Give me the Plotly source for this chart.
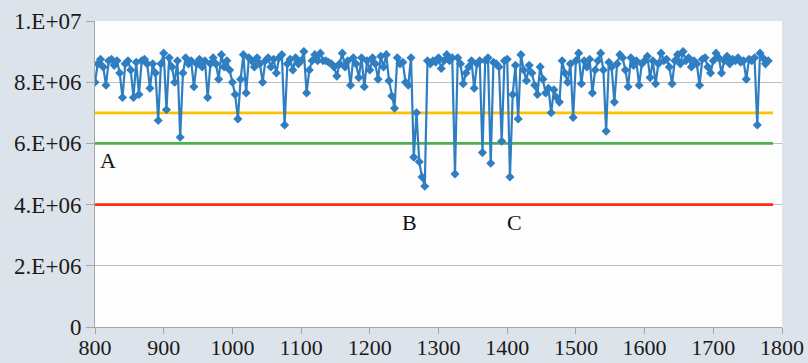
import plotly.graph_objects as go

# Sampled signal: (x, value in units of 1e6)
samples = [
    (800, 8.0), (804, 8.6), (808, 8.75), (812, 8.5), (816, 7.9), (820, 8.7), (824, 8.75), (828, 8.55),
    (832, 8.7), (836, 8.3), (840, 7.5), (844, 8.6), (848, 8.7), (852, 8.4), (856, 7.5), (860, 8.65),
    (864, 7.6), (868, 8.7), (872, 8.75), (876, 8.6), (880, 7.8), (884, 8.6), (888, 8.3), (892, 6.75),
    (896, 8.6), (900, 8.95), (904, 7.1), (908, 8.8), (912, 8.5), (916, 8.0), (920, 8.7), (924, 6.2),
    (928, 8.3), (932, 8.8), (936, 8.6), (940, 8.7), (944, 7.85), (948, 8.6), (952, 8.75), (956, 8.5),
    (960, 8.7), (964, 7.5), (968, 8.6), (972, 8.8), (976, 8.6), (980, 8.1), (984, 8.9), (988, 8.5),
    (992, 8.7), (996, 8.4), (1000, 8.0), (1004, 7.6), (1008, 6.8), (1012, 8.1), (1016, 8.9), (1020, 7.65),
    (1024, 8.8), (1028, 8.7), (1032, 8.5), (1036, 8.8), (1040, 8.6), (1044, 8.0), (1048, 8.7), (1052, 8.8),
    (1056, 8.5), (1060, 8.75), (1064, 8.3), (1068, 8.8), (1072, 8.9), (1076, 6.6), (1080, 8.6), (1084, 8.75),
    (1088, 8.4), (1092, 8.8), (1096, 8.6), (1100, 8.7), (1104, 9.0), (1108, 7.65), (1112, 8.4), (1116, 8.7),
    (1120, 8.9), (1124, 8.7), (1128, 8.95), (1132, 8.7), (1136, 8.7), (1140, 8.65), (1144, 8.6), (1148, 8.5),
    (1152, 8.2), (1156, 8.6), (1160, 8.95), (1164, 8.5), (1168, 8.7), (1172, 7.9), (1176, 8.8), (1180, 8.6),
    (1184, 8.15), (1188, 8.8), (1192, 7.85), (1196, 8.7), (1200, 8.4), (1204, 8.8), (1208, 8.6), (1212, 8.1),
    (1216, 8.85), (1220, 8.5), (1224, 8.9), (1228, 8.05), (1232, 7.55), (1236, 7.15), (1240, 8.8), (1244, 8.6),
    (1248, 8.65), (1252, 8.0), (1256, 7.9), (1260, 8.8), (1264, 5.55), (1268, 7.0), (1272, 5.4), (1276, 4.9),
    (1280, 4.6), (1284, 8.7), (1288, 8.6), (1292, 8.7), (1296, 8.65), (1300, 8.8), (1304, 8.45), (1308, 8.7),
    (1312, 8.9), (1316, 8.7), (1320, 8.8), (1324, 5.0), (1328, 8.8), (1332, 8.6), (1336, 7.95), (1340, 8.3),
    (1344, 8.5), (1348, 8.7), (1352, 7.8), (1356, 8.6), (1360, 8.7), (1364, 5.7), (1368, 8.7), (1372, 8.8),
    (1376, 5.35), (1380, 8.65), (1384, 8.6), (1388, 8.5), (1392, 6.07), (1396, 8.7), (1400, 8.75), (1404, 4.9),
    (1408, 7.6), (1412, 8.55), (1416, 6.8), (1420, 8.9), (1424, 8.4), (1428, 8.05), (1432, 8.55), (1436, 8.3),
    (1440, 7.9), (1444, 7.6), (1448, 8.5), (1452, 8.1), (1456, 7.65), (1460, 7.8), (1464, 7.0), (1468, 7.75),
    (1472, 7.5), (1476, 7.35), (1480, 8.7), (1484, 8.3), (1488, 8.0), (1492, 8.6), (1496, 6.85), (1500, 8.7),
    (1504, 8.95), (1508, 7.95), (1512, 8.7), (1516, 8.5), (1520, 8.75), (1524, 7.65), (1528, 8.4), (1532, 8.7),
    (1536, 8.95), (1540, 8.4), (1544, 6.4), (1548, 8.65), (1552, 8.5), (1556, 7.35), (1560, 8.6), (1564, 8.9),
    (1568, 8.8), (1572, 8.4), (1576, 7.85), (1580, 8.8), (1584, 8.55), (1588, 8.7), (1592, 7.9), (1596, 8.6),
    (1600, 8.7), (1604, 8.85), (1608, 8.15), (1612, 8.7), (1616, 7.95), (1620, 8.6), (1624, 8.95), (1628, 8.7),
    (1632, 8.75), (1636, 8.5), (1640, 7.95), (1644, 8.7), (1648, 8.9), (1652, 8.6), (1656, 9.0), (1660, 8.7),
    (1664, 8.8), (1668, 8.5), (1672, 8.7), (1676, 8.6), (1680, 7.9), (1684, 8.75), (1688, 8.8), (1692, 8.5),
    (1696, 8.3), (1700, 8.7), (1704, 8.95), (1708, 8.8), (1712, 8.3), (1716, 8.7), (1720, 8.85), (1724, 8.6),
    (1728, 8.75), (1732, 8.7), (1736, 8.8), (1740, 8.65), (1744, 8.7), (1748, 8.1), (1752, 8.75), (1756, 8.7),
    (1760, 8.8), (1764, 6.6), (1768, 8.95), (1772, 8.8), (1776, 8.6), (1780, 8.7),
]
x_vals = [p[0] for p in samples]
y_vals = [p[1] * 1e6 for p in samples]

# Threshold levels
threshold_levels = [7e6, 6e6, 4e6]
threshold_colors = ["#FFC000", "#4CAF50", "#FF2A1A"]
threshold_x = [800, 1787]

# Axis ticks
y_tickvals = [0, 2e6, 4e6, 6e6, 8e6, 1e7]
y_ticktext = ["0", "2.E+06", "4.E+06", "6.E+06", "8.E+06", "1.E+07"]
x_tickvals = [800, 900, 1000, 1100, 1200, 1300, 1400, 1500, 1600, 1700, 1800]

# Region labels
label_text = ["A", "B", "C"]
label_x = [819, 1258, 1411]
label_y = [5.45e6, 3.42e6, 3.42e6]

font_family = '"Liberation Serif", "Times New Roman", Times, serif'
paper_color = "#DCE3EB"

fig = go.Figure()
for lvl, col in zip(threshold_levels, threshold_colors):
    fig.add_trace(go.Scatter(x=threshold_x, y=[lvl, lvl], mode="lines",
                             line=dict(color=col, width=2.8), hoverinfo="skip",
                             showlegend=False))

fig.add_trace(go.Scatter(x=x_vals, y=y_vals, mode="lines+markers",
                         line=dict(color="#2E7EC1", width=2.2),
                         marker=dict(symbol="diamond", size=7, color="#2E7EC1"),
                         showlegend=False))

for t, ax_, ay_ in zip(label_text, label_x, label_y):
    fig.add_annotation(x=ax_, y=ay_, text=t, showarrow=False,
                       font=dict(family=font_family, size=22, color="#111"))

fig.update_layout(
    width=808, height=363,
    margin=dict(l=95, r=26, t=21, b=36),
    paper_bgcolor=paper_color,
    plot_bgcolor="#FDFDFE",
    font=dict(family=font_family, size=23, color="#1a1a1a"),
    showlegend=False,
)
fig.update_xaxes(range=[800, 1800], tickvals=x_tickvals, showgrid=False,
                 showline=True, linecolor="#A6A6A6", linewidth=1,
                 ticks="outside", ticklen=6, tickcolor="#A6A6A6", zeroline=False,
                 tickfont=dict(size=22), ticklabelstandoff=-5,
                 automargin=False)
fig.update_yaxes(range=[0, 1e7], tickvals=y_tickvals, ticktext=y_ticktext,
                 showgrid=True, gridcolor="#BFBFBF", gridwidth=1,
                 showline=True, linecolor="#A6A6A6", linewidth=1,
                 ticks="outside", ticklen=8, tickcolor="#A6A6A6", zeroline=False,
                 automargin=False)

fig.write_html(
    "out.html",
    config={"displayModeBar": False},
    post_script="document.body.style.margin='0';document.body.style.overflow='hidden';"
                "document.body.style.background='" + paper_color + "';",
)
